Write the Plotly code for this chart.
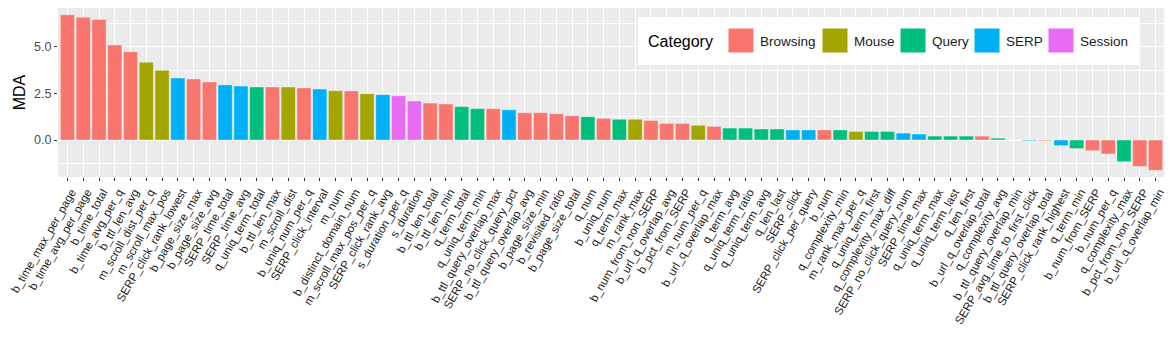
import plotly.graph_objects as go

features = [
    "b_time_max_per_page", "b_time_avg_per_page", "b_time_total", "b_time_avg_per_q",
    "b_ttl_len_avg", "m_scroll_dist_per_q", "m_scroll_max_pos", "SERP_click_rank_lowest",
    "b_page_size_max", "b_page_size_avg", "SERP_time_total", "SERP_time_avg",
    "q_uniq_term_total", "b_ttl_len_max", "m_scroll_dist", "b_uniq_num_per_q",
    "SERP_click_interval", "m_num", "b_distinct_domain_num", "m_scroll_max_pos_per_q",
    "SERP_click_rank_avg", "s_duration_per_q", "s_duration", "b_ttl_len_total",
    "b_ttl_len_min", "q_term_total", "q_uniq_term_min", "b_ttl_query_overlap_max",
    "SERP_no_click_query_pct", "b_ttl_query_overlap_avg", "b_page_size_min", "b_revisited_ratio",
    "b_page_size_total", "q_num", "b_uniq_num", "q_term_max",
    "m_rank_max", "b_num_from_non_SERP", "b_url_q_overlap_avg", "b_pct_from_SERP",
    "m_num_per_q", "b_url_q_overlap_max", "q_term_avg", "q_uniq_term_ratio",
    "q_uniq_term_avg", "q_len_last", "SERP_click", "SERP_click_per_query",
    "b_num", "q_complexity_min", "m_rank_max_per_q", "q_uniq_term_first",
    "q_complexity_max_diff", "SERP_no_click_query_num", "SERP_time_max", "q_uniq_term_max",
    "q_uniq_term_last", "q_len_first", "b_url_q_overlap_total", "q_complexity_avg",
    "b_ttl_query_overlap_min", "SERP_avg_time_to_first_click", "b_ttl_query_overlap_total",
    "SERP_click_rank_highest", "q_term_min", "b_num_from_SERP", "b_num_per_q",
    "q_complexity_max", "b_pct_from_non_SERP", "b_url_q_overlap_min",
]

mda = [
    6.71, 6.57, 6.46, 5.09, 4.73, 4.16, 3.73, 3.32, 3.27, 3.11,
    2.95, 2.89, 2.84, 2.84, 2.84, 2.79, 2.73, 2.64, 2.63, 2.48,
    2.43, 2.37, 2.09, 1.98, 1.93, 1.79, 1.68, 1.68, 1.62, 1.46,
    1.46, 1.41, 1.30, 1.25, 1.16, 1.11, 1.11, 1.05, 0.89, 0.89,
    0.79, 0.73, 0.64, 0.64, 0.59, 0.59, 0.54, 0.54, 0.54, 0.54,
    0.46, 0.46, 0.46, 0.37, 0.32, 0.21, 0.21, 0.21, 0.21, 0.10,
    0.005, -0.04, -0.04, -0.30, -0.46, -0.57, -0.75, -1.16, -1.41, -1.62,
]

PREFIX_TO_CATEGORY = {"b": "Browsing", "m": "Mouse", "q": "Query", "SERP": "SERP", "s": "Session"}
categories = ["Browsing", "Mouse", "Query", "SERP", "Session"]
cat_colors = ["#F8766D", "#A3A500", "#00BF7D", "#00B0F6", "#E76BF3"]
color_of = dict(zip(categories, cat_colors))

feature_cat = [PREFIX_TO_CATEGORY[f.split("_")[0]] for f in features]

fig = go.Figure()
fig.add_trace(
    go.Bar(
        x=features,
        y=mda,
        width=0.9,
        marker=dict(color=[color_of[c] for c in feature_cat], line=dict(color="rgba(255,255,255,0.6)", width=0.6)),
        showlegend=False,
        hovertemplate="%{x}<br>MDA: %{y:.2f}<extra></extra>",
    )
)

# the page body keeps its default 8px margin, so the figure starts at (8, 8)
OFF = 8
W, H = 1172 - OFF, 351 - OFF
# plot area in page pixels, used to place the hand-drawn legend
PLOT_L, PLOT_R, PLOT_T, PLOT_B = 58, 1165, 8, 177


def px(x):
    return (x - PLOT_L) / (PLOT_R - PLOT_L)


def py(y):
    return (PLOT_B - y) / (PLOT_B - PLOT_T)


shapes = [
    dict(type="rect", xref="paper", yref="paper", x0=px(638), x1=px(1140), y0=py(65), y1=py(17),
         fillcolor="white", line=dict(width=0), layer="above"),
]
annotations = [
    dict(text="Category", xref="paper", yref="paper", x=px(646), y=py(41), xanchor="left",
         yanchor="middle", showarrow=False, font=dict(size=16, color="#000")),
]
swatch_left = [728, 822, 900, 974, 1048]
for left, cat, col in zip(swatch_left, categories, cat_colors):
    shapes.append(dict(type="rect", xref="paper", yref="paper", x0=px(left), x1=px(left + 26),
                       y0=py(53), y1=py(28), fillcolor=col, line=dict(color="white", width=1),
                       layer="above"))
    annotations.append(dict(text=cat, xref="paper", yref="paper", x=px(left + 30), y=py(41),
                            xanchor="left", yanchor="middle", showarrow=False,
                            font=dict(size=13.5, color="#1a1a1a")))

fig.update_layout(
    width=W,
    height=H,
    margin=dict(l=PLOT_L - OFF, r=W - (PLOT_R - OFF), t=PLOT_T - OFF, b=H - (PLOT_B - OFF),
                autoexpand=False),
    paper_bgcolor="white",
    plot_bgcolor="#EBEBEB",
    font=dict(family="Liberation Sans, Arial, sans-serif"),
    bargap=0.1,
    shapes=shapes,
    annotations=annotations,
    xaxis=dict(
        type="category",
        automargin=False,
        range=[-0.6, len(features) - 0.4],
        tickangle=-60,
        ticklabelshift=4,
        tickfont=dict(size=11.5, color="#1a1a1a"),
        ticks="outside",
        ticklen=3,
        tickcolor="#333",
        showgrid=True,
        gridcolor="white",
        gridwidth=1.1,
        zeroline=False,
        showline=False,
    ),
    yaxis=dict(
        automargin=False,
        title=dict(text="MDA", font=dict(size=16, color="#000"), standoff=4),
        range=[-1.98, 7.07],
        tickvals=[0, 2.5, 5.0],
        tickformat=".1f",
        tickfont=dict(size=12.5, color="#4D4D4D"),
        ticks="outside",
        ticklen=3,
        tickcolor="#333",
        showgrid=True,
        gridcolor="white",
        gridwidth=1.1,
        minor=dict(tickvals=[-1.25, 1.25, 3.75, 6.25], showgrid=True, gridcolor="white", gridwidth=0.5),
        zeroline=False,
        showline=False,
    ),
)

fig.write_html("out.html")
